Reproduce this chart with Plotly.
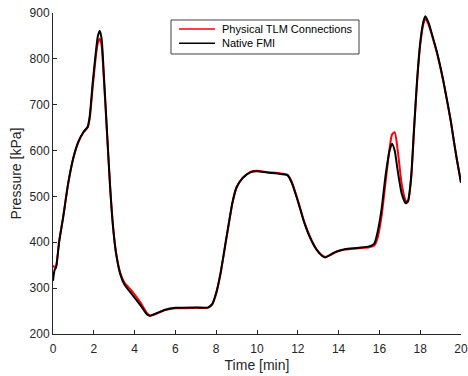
import plotly.graph_objects as go

time_min = [0, 0.08, 0.15, 0.3, 0.5, 0.75, 1.0, 1.25, 1.5, 1.7, 1.8, 1.95, 2.1, 2.2, 2.29, 2.38, 2.5, 2.65,
            2.8, 2.95, 3.1, 3.3, 3.5, 3.9, 4.3, 4.6, 4.75, 5.0, 5.5, 6.0, 7.0, 7.6, 7.8, 8.0, 8.2, 8.5,
            8.8, 9.0, 9.3, 9.7, 10.0, 10.5, 11.0, 11.5, 11.7, 12.0, 12.3, 12.6, 12.9, 13.2, 13.35, 13.6,
            13.9, 14.3, 15.0, 15.5, 15.75, 15.9, 16.1, 16.3, 16.5, 16.62, 16.75, 16.9, 17.1, 17.3, 17.4,
            17.55, 17.7, 17.85, 18.0, 18.15, 18.25, 18.4, 18.6, 18.82, 19.1, 19.31, 19.5, 19.64, 19.8, 20.0]

native_fmi = [316, 340, 345, 400, 455, 530, 585, 620, 641, 652, 675, 750, 815, 850, 861, 845, 760, 640,
              520, 430, 373, 330, 308, 285, 262, 243, 240, 244, 253, 257, 258, 258, 265, 290, 330, 410,
              488, 520, 540, 553, 555, 552, 550, 546, 530, 490, 445, 410, 385, 370, 367, 373,
              380, 385, 388, 391, 397, 420, 470, 545, 600, 615, 600, 555, 505, 485, 490,
              540, 650, 755, 835, 880, 893, 880, 850, 815, 760, 711, 665, 624, 580, 530]

tlm = [350, 345, 348, 402, 456, 530, 584, 619, 640, 650, 670, 740, 805, 835, 844, 830, 750, 635,
       522, 432, 375, 333, 312, 292, 268, 246, 240, 243, 252, 256, 257, 257, 264, 288, 328, 408,
       486, 520, 541, 554, 556, 553, 551, 547, 532, 492, 447, 412, 386, 371, 368, 372,
       379, 384, 387, 389, 393, 408, 455, 530, 605, 635, 640, 600, 525, 490, 488,
       535, 645, 752, 830, 875, 887, 876, 848, 813, 758, 710, 663, 623, 579, 530]

series_names = ["Physical TLM Connections", "Native FMI"]
series_colors = ["#ff0000", "#000000"]

x_ticks = [0, 2, 4, 6, 8, 10, 12, 14, 16, 18, 20]
y_ticks = [200, 300, 400, 500, 600, 700, 800, 900]

fig = go.Figure()
for vals, name, col in zip([tlm, native_fmi], series_names, series_colors):
    fig.add_trace(go.Scatter(x=time_min, y=vals, mode="lines", name=name,
                             line=dict(color=col, width=2, shape="spline", smoothing=0.6)))

axis_color = "#262626"

# Manual MATLAB-style legend (paper coordinates)
fig.add_shape(type="rect", xref="paper", yref="paper", x0=0.2892, x1=0.7500, y0=0.8723, y1=0.9782,
              line=dict(color="#404040", width=1), fillcolor="white", layer="above")
legend_rows_y = [0.9502, 0.9055]
for yy, name, col in zip(legend_rows_y, series_names, series_colors):
    fig.add_shape(type="line", xref="paper", yref="paper", x0=0.3088, x1=0.3971, y0=yy, y1=yy,
                  line=dict(color=col, width=1.5), layer="above")
    fig.add_annotation(xref="paper", yref="paper", x=0.4093, y=yy, text=name, showarrow=False,
                       xanchor="left", yanchor="middle",
                       font=dict(size=11, color="#000000"))

fig.update_layout(
    width=468, height=376,
    margin=dict(l=53, r=7, t=13, b=42),
    paper_bgcolor="white", plot_bgcolor="white",
    font=dict(family="Liberation Sans, Arial, sans-serif", size=12, color=axis_color),
    showlegend=False,
    xaxis=dict(range=[0, 20], tickvals=x_ticks, showgrid=False, zeroline=False, automargin=False,
               showline=True, linecolor=axis_color, linewidth=1, ticks="inside", ticklen=4,
               tickcolor=axis_color, mirror=False, ticklabelstandoff=4,
               title=dict(text="Time [min]", font=dict(size=14), standoff=4)),
    yaxis=dict(range=[200, 900], tickvals=y_ticks, showgrid=False, zeroline=False, automargin=False,
               showline=True, linecolor=axis_color, linewidth=1, ticks="inside", ticklen=4,
               tickcolor=axis_color, mirror=False,
               title=dict(text="Pressure [kPa]", font=dict(size=14), standoff=4)),
)

fig.write_html("out.html", config={"displayModeBar": False},
               post_script="document.body.style.margin='0';document.body.style.overflow='hidden';")
